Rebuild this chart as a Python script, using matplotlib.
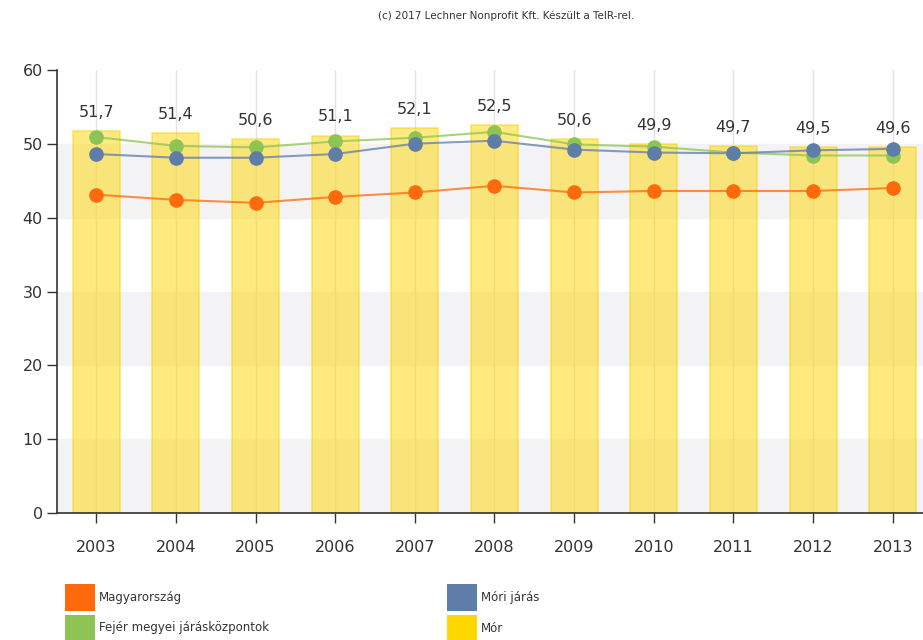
import numpy as np
import matplotlib.pyplot as plt
from matplotlib.patches import Rectangle

evek = [2003, 2004, 2005, 2006, 2007, 2008, 2009, 2010, 2011, 2012, 2013]
mor = [51.7, 51.4, 50.6, 51.1, 52.1, 52.5, 50.6, 49.9, 49.7, 49.5, 49.6]
magyarorszag = [43.1, 42.4, 42.0, 42.8, 43.4, 44.3, 43.4, 43.6, 43.6, 43.6, 44.0]
mori_jaras = [48.6, 48.1, 48.1, 48.6, 50.0, 50.4, 49.2, 48.8, 48.7, 49.1, 49.3]
fejer = [50.9, 49.7, 49.5, 50.3, 50.8, 51.6, 49.9, 49.6, 48.8, 48.4, 48.4]
cimkek = ["51,7", "51,4", "50,6", "51,1", "52,1", "52,5", "50,6", "49,9", "49,7", "49,5", "49,6"]

c_orange = "#FF6A0D"
c_blue = "#5E7DA8"
c_green = "#8DC453"
c_yellow = "#FFD700"

fig = plt.figure(figsize=(9.23, 6.4), dpi=100)
ax = fig.add_axes([0.062, 0.198, 0.938, 0.693])

# alternating bands
for lo in (0, 20, 40):
    ax.axhspan(lo, lo + 10, color="#F3F3F5", zorder=0)
for x in evek:
    ax.axvline(x, color="#E2E2E2", lw=1, zorder=0.5)

ax.bar(evek, mor, width=0.59, color=c_yellow, alpha=0.5, edgecolor="#F2D200",
       linewidth=1.2, zorder=1)
for x, v, s in zip(evek, mor, cimkek):
    ax.text(x, v + 1.5, s, ha="center", va="bottom", fontsize=11.5, color="#333333")

ax.plot(evek, fejer, color=c_green, lw=1.5, alpha=0.75, zorder=2)
ax.plot(evek, fejer, "o", color=c_green, ms=9.5, zorder=3)
ax.plot(evek, mori_jaras, color=c_blue, lw=1.5, alpha=0.75, zorder=2)
ax.plot(evek, mori_jaras, "o", color=c_blue, ms=9.5, zorder=3)
ax.plot(evek, magyarorszag, color=c_orange, lw=1.5, alpha=0.75, zorder=2)
ax.plot(evek, magyarorszag, "o", color=c_orange, ms=9.5, zorder=3)

ax.set_ylim(0, 60)
ax.set_xlim(2002.51, 2013.38)
ax.set_yticks([0, 10, 20, 30, 40, 50, 60])
ax.set_xticks(evek)
ax.tick_params(axis="both", labelsize=11.5, colors="#333333", length=7, width=1)
ax.tick_params(axis="x", pad=12)
for s in ("top", "right"):
    ax.spines[s].set_visible(False)
for s in ("left", "bottom"):
    ax.spines[s].set_color("#333333")
    ax.spines[s].set_linewidth(1.2)

fig.text(0.548, 0.975, "(c) 2017 Lechner Nonprofit Kft. Készült a TeIR-rel.",
         ha="center", va="center", fontsize=7.5, color="#333333")

# legend, two columns
legend_nevek = ["Magyarország", "Fejér megyei járásközpontok", "Móri járás", "Mór"]
legend_szinek = [c_orange, c_green, c_blue, c_yellow]
oszlop_x = [65 / 923, 447 / 923]
sor_y = [1 - 597 / 640, 1 - 628 / 640]
w, h = 30 / 923, 27 / 640
for i, (nev, szin) in enumerate(zip(legend_nevek, legend_szinek)):
    x0 = oszlop_x[i // 2]
    y0 = sor_y[i % 2]
    fig.add_artist(Rectangle((x0, y0 - h / 2), w, h, transform=fig.transFigure,
                             color=szin, lw=0))
    fig.text(x0 + w + 4 / 923, y0, nev, ha="left", va="center",
             fontsize=8.5, color="#333333")

fig.savefig("out.png", dpi=100)
